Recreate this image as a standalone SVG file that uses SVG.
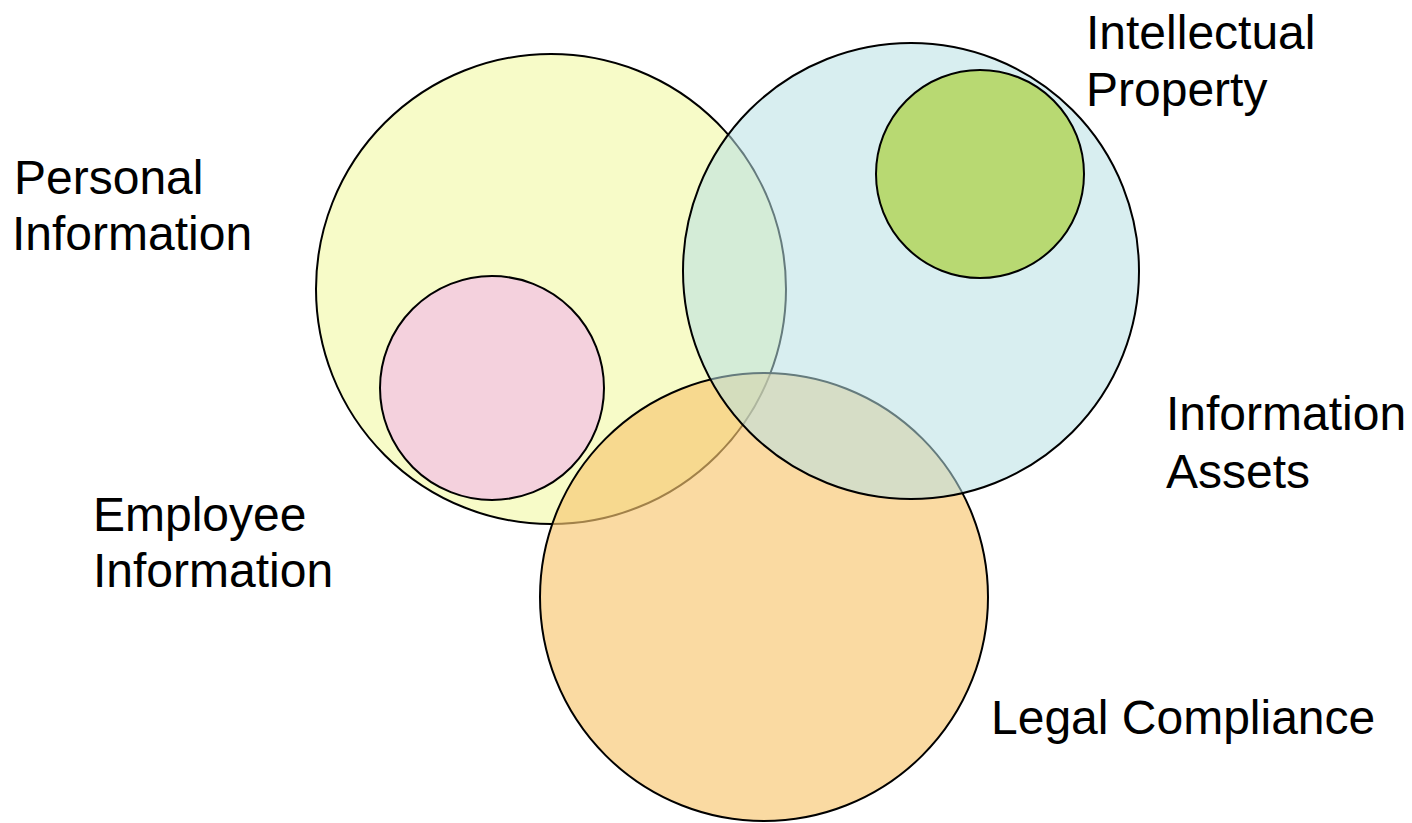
<svg xmlns="http://www.w3.org/2000/svg" width="1412" height="823" viewBox="0 0 1412 823">
<style>
.c{stroke:#000;stroke-width:2}
.t{font-family:"Liberation Sans",Arial,sans-serif;font-size:48px;fill:#000}
</style>
<rect width="1412" height="823" fill="#fff"/>
<g id="personal">
<circle class="c" cx="551" cy="289" r="235" fill="#f7fbc8"/>
</g>
<g id="employee">
<circle class="c" cx="492" cy="388" r="112" fill="#f4d1dd"/>
</g>
<g id="legal">
<circle class="c" cx="764" cy="597" r="224" fill="#f8c670" fill-opacity="0.65"/>
</g>
<g id="assets">
<circle class="c" cx="911" cy="271" r="228" fill="#b8e0e3" fill-opacity="0.55"/>
</g>
<g id="ip">
<circle class="c" cx="980" cy="174" r="104" fill="#b8d972"/>
</g>
<g id="labels">
<text class="t" x="1086" y="49">Intellectual</text>
<text class="t" x="1086" y="106">Property</text>
<text class="t" x="14" y="194">Personal</text>
<text class="t" x="12" y="250">Information</text>
<text class="t" x="1166" y="430">Information</text>
<text class="t" x="1166" y="488">Assets</text>
<text class="t" x="93" y="531">Employee</text>
<text class="t" x="93" y="587">Information</text>
<text class="t" x="991" y="734">Legal Compliance</text>
</g>
<g id="connectors"/>
</svg>
